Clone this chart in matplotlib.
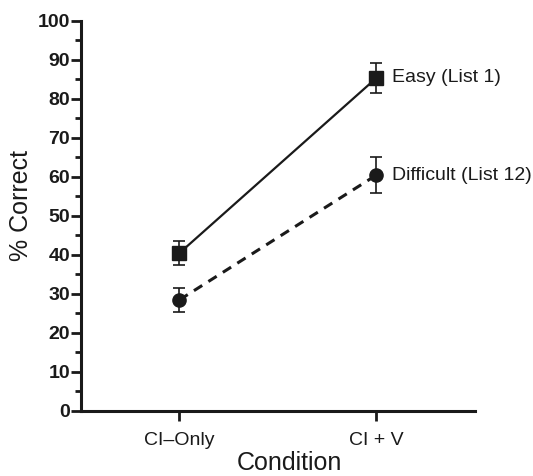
import matplotlib
matplotlib.use("Agg")
import matplotlib.pyplot as plt
from matplotlib.ticker import MultipleLocator

plt.rcParams['font.family'] = ['Liberation Sans', 'DejaVu Sans']

conditions = ["CI\u2013Only", "CI + V"]
easy_mean = [40.5, 85.4]
easy_err = [3.0, 3.8]
difficult_mean = [28.5, 60.5]
difficult_err = [3.0, 4.6]
series_labels = ["Easy (List 1)", "Difficult (List 12)"]

fig = plt.figure(figsize=(5.33, 4.76), dpi=100)
ax = fig.add_axes([0.152, 0.1366, 0.739, 0.8193])

x = list(range(len(conditions)))
ax.errorbar(x, easy_mean, yerr=easy_err, color="#1a1a1a", marker="s", ms=9.5,
            lw=1.6, elinewidth=1.2, capsize=4.5, capthick=1.2, ls="-")
ax.errorbar(x, difficult_mean, yerr=difficult_err, color="#1a1a1a", marker="o", ms=9.5,
            lw=2.2, elinewidth=1.2, capsize=4.5, capthick=1.2, ls=(0, (3.2, 2.4)))

ax.text(x[1] + 0.08, easy_mean[1], series_labels[0], fontsize=14, va="center",
        ha="left", color="#1a1a1a")
ax.text(x[1] + 0.08, difficult_mean[1], series_labels[1], fontsize=14, va="center",
        ha="left", color="#1a1a1a")

ax.set_xlim(-0.5, 1.5)
ax.set_ylim(0, 100)
ax.set_xticks(x)
ax.set_xticklabels(conditions, fontsize=14)
ax.yaxis.set_major_locator(MultipleLocator(10))
ax.yaxis.set_minor_locator(MultipleLocator(5))
for lbl in ax.get_yticklabels():
    lbl.set_fontweight("bold")
    lbl.set_fontsize(14)
ax.tick_params(axis="y", which="major", length=7, width=2, pad=1, colors="#1a1a1a")
ax.tick_params(axis="y", which="minor", length=4, width=2, colors="#1a1a1a")
ax.tick_params(axis="x", which="major", length=7, width=2, pad=8, colors="#1a1a1a")

for side in ["top", "right"]:
    ax.spines[side].set_visible(False)
for side in ["left", "bottom"]:
    ax.spines[side].set_linewidth(2.2)
    ax.spines[side].set_color("#1a1a1a")

ax.set_ylabel("% Correct", fontsize=18, color="#1a1a1a")
ax.yaxis.set_label_coords(-0.122, 0.528)
ax.set_xlabel("Condition", fontsize=18, color="#1a1a1a")
ax.xaxis.set_label_coords(0.53, -0.103)

fig.savefig("out.png", dpi=100)
